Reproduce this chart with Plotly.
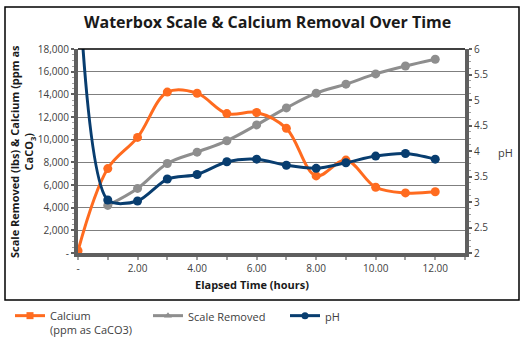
import plotly.graph_objects as go

# Elapsed time (hours)
hours = [0, 1, 2, 3, 4, 5, 6, 7, 8, 9, 10, 11, 12]
# Calcium (ppm as CaCO3)
calcium = [200, 7450, 10200, 14200, 14100, 12300, 12400, 11000, 6800, 8200, 5800, 5300, 5400]
# Scale removed (lbs)
scale_removed = [None, 4200, 5700, 7900, 8900, 9900, 11300, 12800, 14100, 14900, 15800, 16500, 17100]
# pH
ph = [7.6, 3.04, 3.02, 3.45, 3.54, 3.79, 3.84, 3.72, 3.66, 3.77, 3.9, 3.95, 3.84]

left_ticks = [0, 2000, 4000, 6000, 8000, 10000, 12000, 14000, 16000, 18000]
left_ticktext = ["-", "2,000", "4,000", "6,000", "8,000", "10,000", "12,000", "14,000", "16,000", "18,000"]
x_ticks = [0, 2, 4, 6, 8, 10, 12]
x_ticktext = ["-", "2.00", "4.00", "6.00", "8.00", "10.00", "12.00"]
ph_ticks = [2, 2.5, 3, 3.5, 4, 4.5, 5, 5.5, 6]
ph_ticktext = ["2", "2.5", "3", "3.5", "4", "4.5", "5", "5.5", "6"]

ORANGE = "#FF6B1F"
GREY = "#8E8E8E"
NAVY = "#083D6F"
AXIS = "#5F5F5F"
FONT = "Open Sans"

W, H = 528, 339
L, R, T, B = 78, 465, 49, 253  # plot area in pixels


def px_x(p):
    return (p - L) / (R - L)


def px_y(p):
    return (B - p) / (B - T)


fig = go.Figure()

fig.add_trace(go.Scatter(
    x=hours, y=scale_removed, mode="lines+markers", line_shape="spline",
    line=dict(color=GREY, width=3), marker=dict(size=9, color=GREY),
    showlegend=False, yaxis="y"))
fig.add_trace(go.Scatter(
    x=hours, y=calcium, mode="lines+markers", line_shape="spline",
    line=dict(color=ORANGE, width=3), marker=dict(size=9, color=ORANGE),
    showlegend=False, yaxis="y"))
fig.add_trace(go.Scatter(
    x=hours, y=ph, mode="lines+markers", line_shape="spline",
    line=dict(color=NAVY, width=3, smoothing=0.8), marker=dict(size=9, color=NAVY),
    showlegend=False, yaxis="y2"))

# legend entries, one legend box each so they sit at fixed spots
legend_items = [("Calcium<br>(ppm as CaCO3)", ORANGE, "square", "legend", 10),
                ("Scale Removed", GREY, "triangle-up", "legend2", 148),
                ("pH", NAVY, "circle", "legend3", 285)]
legend_layout = {}
for name, color, sym, lg, xpx in legend_items:
    fig.add_trace(go.Scatter(
        x=[None], y=[None], mode="lines+markers", name=name, legend=lg,
        line=dict(color=color, width=3), marker=dict(size=7, color=color, symbol=sym)))
    legend_layout[lg] = dict(x=px_x(xpx), y=px_y(302), xanchor="left", yanchor="top",
                             orientation="h", font=dict(size=11, color="#404040"),
                             bgcolor="rgba(0,0,0,0)", valign="top")

fig.update_layout(
    width=W, height=H,
    margin=dict(l=L, r=W - R, t=T, b=H - B, autoexpand=False),
    paper_bgcolor="white", plot_bgcolor="white",
    font=dict(family=FONT, color="#404040", size=10),
    showlegend=True,
    xaxis=dict(range=[0, 13], tickvals=x_ticks, ticktext=x_ticktext,
               showgrid=False, zeroline=False, showline=True, linewidth=4, linecolor=AXIS,
               ticks="outside", ticklen=3, tickwidth=2, tickcolor="#A0A0A0",
               minor=dict(dtick=1, ticks="outside", ticklen=3, tickwidth=2, tickcolor="#A0A0A0"),
               tickfont=dict(size=10, color="#404040")),
    yaxis=dict(range=[0, 18000], tickvals=left_ticks, ticktext=left_ticktext,
               showgrid=True, gridcolor="#7F7F7F", gridwidth=1, zeroline=False,
               showline=True, linewidth=4, linecolor=AXIS,
               ticks="outside", ticklen=3, tickwidth=2, tickcolor=AXIS,
               minor=dict(dtick=500, ticks="outside", ticklen=2, tickwidth=1, tickcolor="#A0A0A0"),
               tickfont=dict(size=10, color="#404040")),
    yaxis2=dict(range=[2, 6], tickvals=ph_ticks, ticktext=ph_ticktext, overlaying="y",
                side="right", showgrid=False, zeroline=False, showline=True, linewidth=4,
                linecolor=AXIS, ticks="outside", ticklen=3, tickwidth=2, tickcolor=AXIS,
                minor=dict(dtick=0.125, ticks="outside", ticklen=2, tickwidth=1, tickcolor="#A0A0A0"),
                tickfont=dict(size=10, color="#404040")),
    **legend_layout,
)

centered = dict(xref="paper", yref="paper", showarrow=False, xanchor="center", yanchor="middle")
fig.add_annotation(text="<b>Waterbox Scale & Calcium Removal Over Time</b>",
                   x=px_x(267), y=px_y(22), font=dict(size=16, color="#1a1a1a"), **centered)
fig.add_annotation(text="<b>Elapsed Time (hours)</b>",
                   x=px_x(252), y=px_y(284), font=dict(size=11, color="#1a1a1a"), **centered)
fig.add_annotation(text="<b>Scale Removed (lbs) & Calcium (ppm as<br>CaCO<sub>3</sub>)</b>",
                   x=px_x(22), y=px_y(152), textangle=-90,
                   font=dict(size=11, color="#1a1a1a"), **centered)
fig.add_annotation(text="pH", x=px_x(505), y=px_y(152),
                   font=dict(size=11, color="#404040"), **centered)

# top edge of plot area and outer frame
fig.add_shape(type="line", xref="paper", yref="paper", x0=0, x1=1, y0=1, y1=1,
              line=dict(color="black", width=1.5))
fig.add_shape(type="rect", xref="paper", yref="paper",
              x0=px_x(5), x1=px_x(519), y0=px_y(300), y1=px_y(7),
              line=dict(color="black", width=1.5), layer="below")

fig.write_html("out.html")
